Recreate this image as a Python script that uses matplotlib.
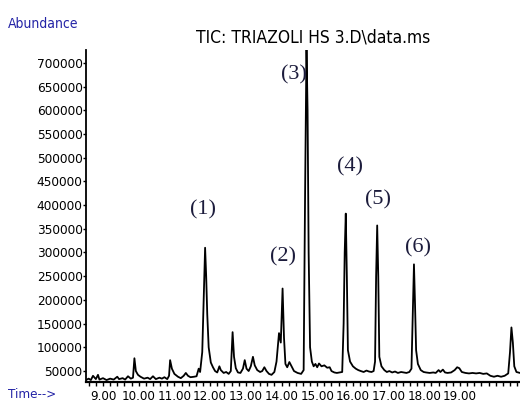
import matplotlib
matplotlib.use('Agg')
import matplotlib.pyplot as plt
from matplotlib.ticker import MultipleLocator

# trace: retention time (min) and abundance
time_min = [8.52, 8.60, 8.66, 8.72, 8.80, 8.86, 8.90, 9.00, 9.10, 9.20, 9.30, 9.40, 9.45, 9.55,
            9.62, 9.70, 9.78, 9.84, 9.88, 9.92, 9.98, 10.05, 10.15, 10.25, 10.32, 10.40, 10.48,
            10.58, 10.65, 10.72, 10.80, 10.85, 10.88, 10.93, 11.00, 11.10, 11.18, 11.26, 11.32,
            11.38, 11.45, 11.55, 11.62, 11.68, 11.72, 11.78, 11.82, 11.86, 11.89, 11.92, 11.96,
            12.02, 12.08, 12.14, 12.20, 12.26, 12.30, 12.38, 12.45, 12.52, 12.58, 12.63, 12.67,
            12.72, 12.78, 12.85, 12.92, 12.97, 13.02, 13.08, 13.14, 13.20, 13.25, 13.32, 13.40,
            13.46, 13.52, 13.58, 13.65, 13.72, 13.80, 13.86, 13.93, 13.98, 14.03, 14.07, 14.11,
            14.16, 14.22, 14.28, 14.35, 14.45, 14.55, 14.62, 14.66, 14.70, 14.73, 14.76, 14.80,
            14.85, 14.90, 14.95, 15.00, 15.05, 15.12, 15.20, 15.28, 15.35, 15.40, 15.48, 15.55,
            15.62, 15.70, 15.74, 15.77, 15.80, 15.83, 15.86, 15.92, 16.00, 16.08, 16.15, 16.22,
            16.30, 16.38, 16.45, 16.52, 16.58, 16.62, 16.65, 16.68, 16.71, 16.74, 16.80, 16.88,
            16.95, 17.02, 17.10, 17.18, 17.26, 17.35, 17.42, 17.50, 17.58, 17.64, 17.67, 17.71,
            17.74, 17.77, 17.82, 17.90, 17.98, 18.05, 18.15, 18.25, 18.32, 18.40, 18.45, 18.52,
            18.58, 18.65, 18.75, 18.85, 18.92, 18.98, 19.05, 19.15, 19.25, 19.35, 19.45, 19.55,
            19.65, 19.75, 19.85, 19.95, 20.05, 20.15, 20.25, 20.35, 20.40, 20.44, 20.48, 20.52,
            20.58, 20.68]
abundance = [31000, 34000, 31000, 40000, 33000, 42000, 32000, 35000, 31000, 34000, 32000, 38000,
             33000, 35000, 32000, 39000, 34000, 36000, 77000, 50000, 42000, 38000, 34000, 36000,
             33000, 39000, 33000, 36000, 34000, 37000, 33000, 40000, 73000, 55000, 44000, 38000,
             35000, 40000, 46000, 40000, 37000, 38000, 39000, 55000, 48000, 90000, 200000, 310000,
             250000, 170000, 100000, 68000, 58000, 50000, 47000, 60000, 52000, 46000, 48000, 44000,
             50000, 132000, 80000, 56000, 47000, 46000, 55000, 73000, 55000, 50000, 60000, 80000,
             62000, 52000, 48000, 50000, 58000, 50000, 44000, 42000, 48000, 70000, 130000, 110000,
             224000, 120000, 65000, 58000, 69000, 60000, 50000, 46000, 44000, 52000, 420000,
             735000, 600000, 300000, 100000, 70000, 60000, 65000, 58000, 66000, 60000, 62000,
             57000, 58000, 50000, 47000, 46000, 47000, 48000, 150000, 300000, 382000, 250000,
             94000, 70000, 60000, 55000, 52000, 50000, 48000, 51000, 49000, 48000, 50000, 70000,
             250000, 357000, 250000, 80000, 60000, 52000, 48000, 50000, 47000, 49000, 46000,
             48000, 47000, 46000, 48000, 55000, 150000, 275000, 190000, 94000, 65000, 52000,
             48000, 47000, 46000, 47000, 46000, 52000, 48000, 53000, 47000, 46000, 47000, 52000,
             58000, 56000, 48000, 46000, 45000, 46000, 45000, 46000, 44000, 45000, 40000, 38000,
             40000, 38000, 40000, 45000, 90000, 142000, 110000, 60000, 48000, 46000]

# peak labels and where they sit (time, abundance)
peak_labels = ['(1)', '(2)', '(3)', '(4)', '(5)', '(6)']
label_time = [11.81, 14.03, 14.36, 15.92, 16.71, 17.83]
label_abund = [390000, 290000, 675000, 480000, 410000, 310000]

y_ticks = list(range(50000, 700001, 50000))
x_ticks = list(range(9, 20))

narrow = dict(family='DejaVu Sans', stretch='condensed')
blue = '#2323a6'

fig = plt.figure(figsize=(5.2, 4.09), dpi=100)
ax = fig.add_axes([86/520, 27/409, 434/520, 332/409])

ax.plot(time_min, abundance, color='black', lw=1.3)

ax.set_xlim(8.524, 20.68)
ax.set_ylim(26900, 727000)

ax.spines['top'].set_visible(False)
ax.spines['right'].set_visible(False)
ax.spines['left'].set_linewidth(1.3)
ax.spines['bottom'].set_linewidth(1.6)

ax.set_yticks(y_ticks)
ax.set_yticklabels([str(v) for v in y_ticks], fontsize=9.7, **narrow)
ax.tick_params(axis='y', direction='out', length=2, width=1, pad=0.5)

ax.set_xticks(x_ticks)
ax.set_xticklabels(['%.2f' % v for v in x_ticks], fontsize=9.5, **narrow)
ax.xaxis.set_minor_locator(MultipleLocator(0.2))
ax.tick_params(axis='x', which='both', direction='out', length=3, width=1, pad=3)

for lab, t, a in zip(peak_labels, label_time, label_abund):
    ax.text(t, a, lab, ha='center', va='center', family=['Liberation Serif', 'DejaVu Serif'],
            fontsize=16, color='#1c1c3c')

fig.text(8/520, 1 - 24/409, 'Abundance', color=blue, fontsize=10, ha='left', va='center',
         **narrow)
fig.text(313/520, 1 - 37/409, 'TIC: TRIAZOLI HS 3.D\\data.ms', color='black', fontsize=12.5,
         ha='center', va='center', **narrow)
fig.text(8/520, 1 - 395/409, 'Time-->', color=blue, fontsize=9.5, ha='left', va='center',
         **narrow)

fig.savefig('out.png', dpi=100)
